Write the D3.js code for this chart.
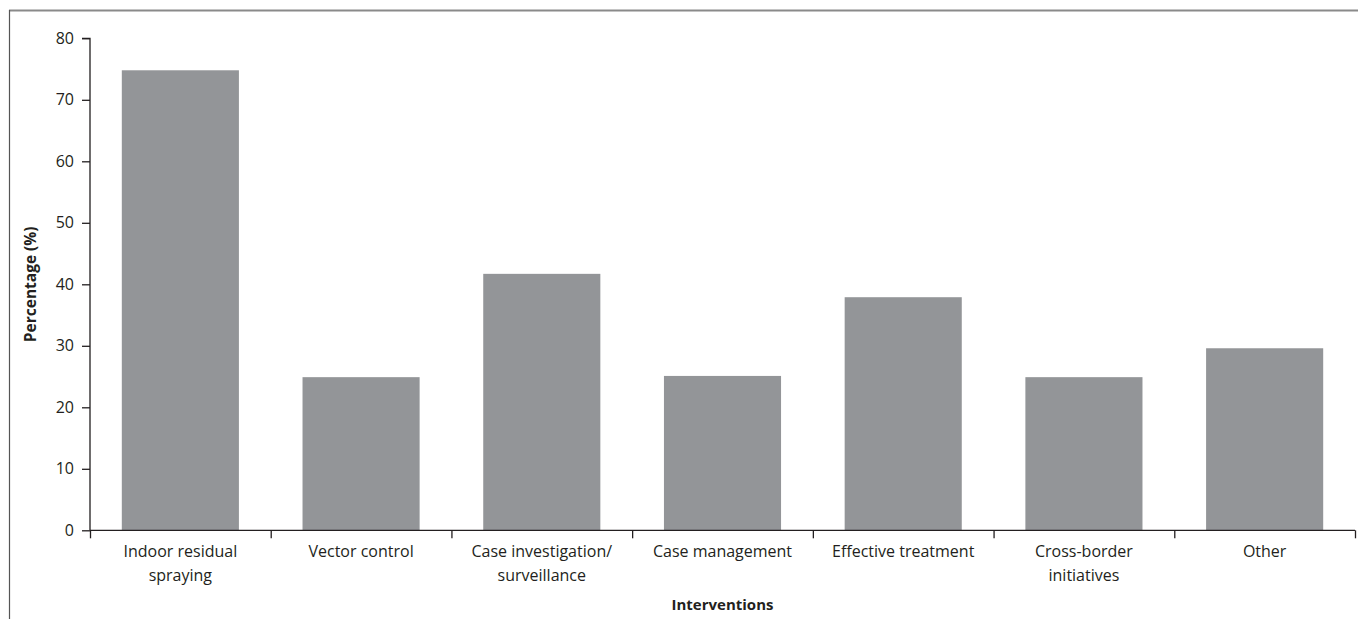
<!DOCTYPE html>
<html><head><meta charset="utf-8">
<script src="https://cdn.jsdelivr.net/npm/d3@7"></script>
<style>body{margin:0;background:#fff;}svg{display:block;font-family:"Open Sans",sans-serif;}</style>
</head><body>
<svg id="c" width="1358" height="619"></svg>
<script>
const categories = [["Indoor residual","spraying"],["Vector control"],["Case investigation/","surveillance"],["Case management"],["Effective treatment"],["Cross-border","initiatives"],["Other"]];
const values = [74.8, 24.9, 41.7, 25.1, 37.9, 24.9, 29.6];
const yTicks = [0,10,20,30,40,50,60,70,80];
const xTitle = "Interventions";
const yTitle = "Percentage (%)";

(function(){
const svg = d3.select("#c");
const mL = 90, mR = 1355, mT = 38.3, mB = 530.3;
const ink = "#231f20";
const ff = "'Open Sans',sans-serif";

// frame
svg.append("line").attr("x1",9).attr("x2",1358).attr("y1",10.5).attr("y2",10.5).attr("stroke","#8a8a8a").attr("stroke-width",2);
svg.append("line").attr("x1",9.5).attr("x2",9.5).attr("y1",10).attr("y2",619).attr("stroke","#555").attr("stroke-width",1.2);

const idx = categories.map((d,i)=>i);
const x = d3.scaleBand().domain(idx).range([mL,mR]).paddingInner(0.352).paddingOuter(0.176);
const y = d3.scaleLinear().domain([0,80]).range([mB,mT]);

svg.append("g").selectAll("rect").data(values).join("rect")
  .attr("x",(d,i)=>x(i)).attr("width",x.bandwidth())
  .attr("y",d=>y(d)).attr("height",d=>y(0)-y(d)).attr("fill","#939598");

// y axis
const ya = svg.append("g").attr("transform",`translate(${mL},0)`)
  .call(d3.axisLeft(y).tickValues(yTicks).tickSize(8).tickPadding(8).tickFormat(d3.format("d")));
ya.select(".domain").attr("stroke",ink).attr("stroke-width",1.3).attr("d",`M-8,${y(80)}H0V${y(0)}`);
ya.selectAll(".tick line").attr("stroke",ink).attr("stroke-width",1.3);
ya.selectAll(".tick text").attr("fill",ink).style("font-size","16px").style("font-family",ff);

// x axis with boundary ticks
const xb = d3.scaleLinear().domain([0,categories.length]).range([mL,mR]);
const xa = svg.append("g").attr("transform",`translate(0,${mB})`)
  .call(d3.axisBottom(xb).tickValues(d3.range(categories.length+1)).tickSize(8).tickFormat(""));
xa.select(".domain").attr("stroke",ink).attr("stroke-width",1.3).attr("d",`M${mL},0H${mR}`);
xa.selectAll(".tick line").attr("stroke",ink).attr("stroke-width",1.3);

// category labels
const lab = svg.append("g").selectAll("text").data(categories).join("text")
  .attr("text-anchor","middle").attr("fill",ink).style("font-size","16px").style("font-family",ff)
  .attr("x",(d,i)=>x(i)+x.bandwidth()/2).attr("y",557);
lab.selectAll("tspan").data(d=>d).join("tspan")
  .attr("x",function(){return this.parentNode.getAttribute("x");})
  .attr("dy",(d,j)=>j===0?0:24).text(d=>d);

svg.append("text").attr("x",(mL+mR)/2).attr("y",610).attr("text-anchor","middle")
  .attr("fill",ink).style("font-size","15px").style("font-family",ff).style("font-weight","bold").text(xTitle);
svg.append("text").attr("transform",`translate(36,${(mT+mB)/2}) rotate(-90)`).attr("text-anchor","middle")
  .attr("fill",ink).style("font-size","15.5px").style("font-family",ff).style("font-weight","bold").text(yTitle);
})();
</script>
</body></html>
